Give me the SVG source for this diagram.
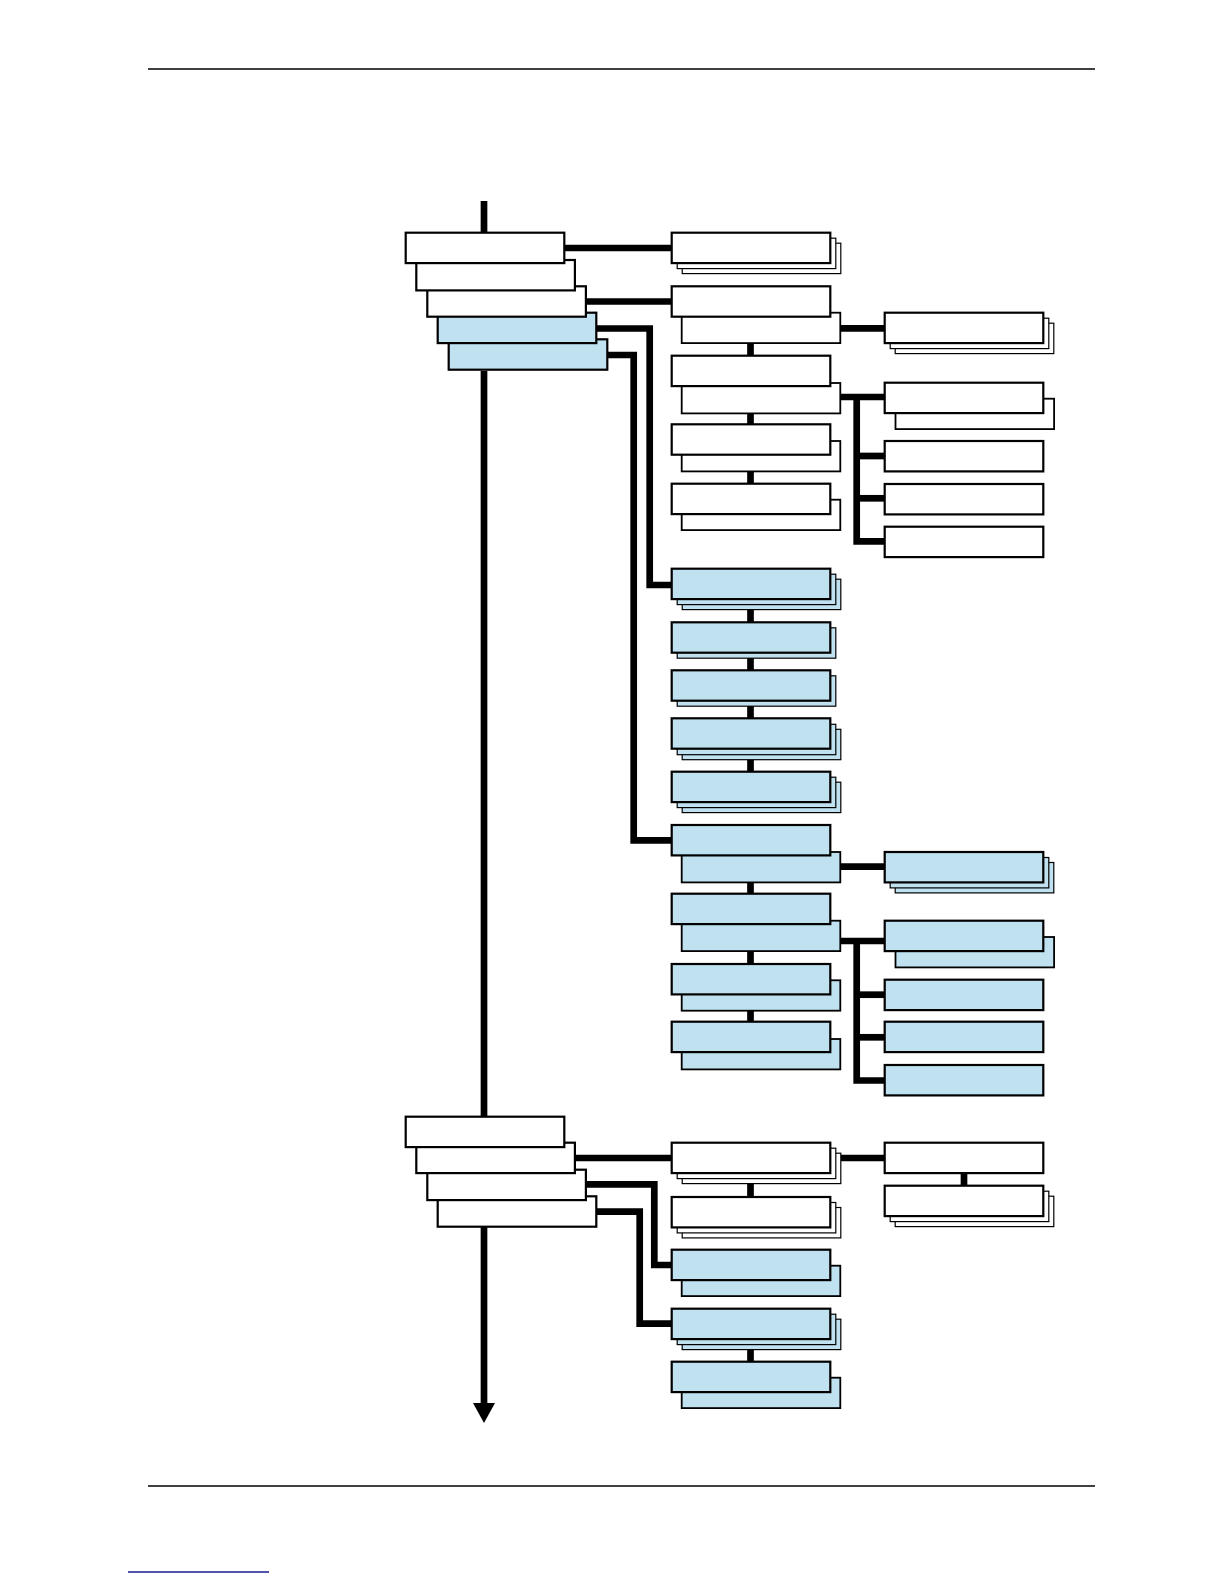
<svg xmlns="http://www.w3.org/2000/svg" width="1224" height="1584" viewBox="0 0 1224 1584">
<style>
.w{fill:#ffffff;stroke:#000;stroke-width:2.2}
.b{fill:#bfe1f0;stroke:#000;stroke-width:2.2}
.w2{fill:#ffffff;stroke:#000;stroke-width:1.8}
.b2{fill:#bfe1f0;stroke:#000;stroke-width:1.8}
.ws{fill:#ffffff;stroke:#000;stroke-width:1.2}
.bs{fill:#bfe1f0;stroke:#000;stroke-width:1.2}
.c{fill:none;stroke:#000;stroke-width:6.7;stroke-linecap:butt;stroke-linejoin:miter}
.rule{fill:none;stroke:#000;stroke-width:1.3}
</style>
<defs>
<marker id="ah" markerUnits="userSpaceOnUse" markerWidth="24" markerHeight="22" refX="0" refY="11" orient="auto" viewBox="0 0 20 22">
<path d="M0 0 L20 11 L0 22 Z" fill="#000"/>
</marker>
</defs>
<rect width="1224" height="1584" fill="#fff"/>
<g id="page-rules">
<path class="rule" d="M148 69 H1095"/>
<path class="rule" d="M148 1486 H1095"/>
<path d="M128 1572 H269" fill="none" stroke="#1a1a8c" stroke-width="1.4"/>
</g>
<g id="connectors">
<path class="c" d="M484 201 V232"/>
<path class="c" d="M484 371 V1116"/>
<path class="c" d="M484 1227 V1403" marker-end="url(#ah)"/>
<path class="c" d="M565 248 H671"/>
<path class="c" d="M586 301.5 H671"/>
<path class="c" d="M597 328.5 H649.7 V585 H671"/>
<path class="c" d="M608 355 H633.7 V840.3 H671"/>
<path class="c" d="M841 328.3 H884"/>
<path class="c" d="M750.5 344 V356"/>
<path class="c" d="M841 397 H884"/>
<path class="c" d="M856.7 397 V541.3 H884"/>
<path class="c" d="M856.7 456 H884"/>
<path class="c" d="M856.7 498.3 H884"/>
<path class="c" d="M750.5 413 V425"/>
<path class="c" d="M750.5 472 V484"/>
<path class="c" d="M750.5 610 V622"/>
<path class="c" d="M750.5 658 V670"/>
<path class="c" d="M750.5 706 V718"/>
<path class="c" d="M750.5 760 V772"/>
<path class="c" d="M841 866.7 H884"/>
<path class="c" d="M750.5 882 V894"/>
<path class="c" d="M841 941 H884"/>
<path class="c" d="M856.7 941 V1080.5 H884"/>
<path class="c" d="M856.7 994.7 H884"/>
<path class="c" d="M856.7 1037.3 H884"/>
<path class="c" d="M750.5 951 V964"/>
<path class="c" d="M750.5 1010 V1022"/>
<path class="c" d="M576 1158 H671"/>
<path class="c" d="M841 1158 H884"/>
<path class="c" d="M964 1173 V1186"/>
<path class="c" d="M750.5 1184 V1197"/>
<path class="c" d="M586 1184.3 H654.3 V1265 H671"/>
<path class="c" d="M597 1211.7 H639.7 V1323.7 H671"/>
<path class="c" d="M750.5 1350 V1362"/>
</g>
<g id="n5"><rect class="b" x="448.7" y="339.3" width="158.6" height="30.4"/></g>
<g id="n4"><rect class="b" x="437.7" y="312.7" width="158.6" height="30.4"/></g>
<g id="n3"><rect class="w" x="427.3" y="286.3" width="158.6" height="30.4"/></g>
<g id="n2"><rect class="w" x="416.3" y="260" width="158.6" height="30.4"/></g>
<g id="n1"><rect class="w" x="405.7" y="232.7" width="158.6" height="30.4"/></g>
<g id="nA"><rect class="ws" x="682.2" y="243.2" width="158.6" height="30.4"/><rect class="ws" x="677.2" y="238.2" width="158.6" height="30.4"/><rect class="w" x="671.7" y="232.7" width="158.6" height="30.4"/></g>
<g id="nB"><rect class="w2" x="681.7" y="312.7" width="158.6" height="30.4"/><rect class="w" x="671.7" y="286.3" width="158.6" height="30.4"/></g>
<g id="nC"><rect class="ws" x="895.2" y="323.2" width="158.6" height="30.4"/><rect class="ws" x="890.2" y="318.2" width="158.6" height="30.4"/><rect class="w" x="884.7" y="312.7" width="158.6" height="30.4"/></g>
<g id="nD"><rect class="w2" x="681.7" y="383" width="158.6" height="30.4"/><rect class="w" x="671.7" y="355.7" width="158.6" height="30.4"/></g>
<g id="nE"><rect class="w2" x="895.5" y="398.7" width="158.6" height="30.4"/><rect class="w" x="884.7" y="382.7" width="158.6" height="30.4"/></g>
<g id="nF"><rect class="w2" x="681.7" y="441" width="158.6" height="30.4"/><rect class="w" x="671.7" y="424.3" width="158.6" height="30.4"/></g>
<g id="nG"><rect class="w2" x="681.7" y="499.7" width="158.6" height="30.4"/><rect class="w" x="671.7" y="483.7" width="158.6" height="30.4"/></g>
<g id="nH"><rect class="w" x="884.7" y="441" width="158.6" height="30.4"/></g>
<g id="nI"><rect class="w" x="884.7" y="484" width="158.6" height="30.4"/></g>
<g id="nJ"><rect class="w" x="884.7" y="526.7" width="158.6" height="30.4"/></g>
<g id="nK"><rect class="bs" x="682.2" y="579.2" width="158.6" height="30.4"/><rect class="bs" x="677.2" y="574.2" width="158.6" height="30.4"/><rect class="b" x="671.7" y="568.7" width="158.6" height="30.4"/></g>
<g id="nL"><rect class="bs" x="677.2" y="627.8" width="158.6" height="30.4"/><rect class="b" x="671.7" y="622.3" width="158.6" height="30.4"/></g>
<g id="nM"><rect class="bs" x="677.2" y="675.8" width="158.6" height="30.4"/><rect class="b" x="671.7" y="670.3" width="158.6" height="30.4"/></g>
<g id="nN"><rect class="bs" x="682.2" y="729.3" width="158.6" height="30.4"/><rect class="bs" x="677.2" y="724.3" width="158.6" height="30.4"/><rect class="b" x="671.7" y="718.3" width="158.6" height="30.4"/></g>
<g id="nO"><rect class="bs" x="682.2" y="782.2" width="158.6" height="30.4"/><rect class="bs" x="677.2" y="777.2" width="158.6" height="30.4"/><rect class="b" x="671.7" y="771.7" width="158.6" height="30.4"/></g>
<g id="nP"><rect class="b2" x="681.7" y="852" width="158.6" height="30.4"/><rect class="b" x="671.7" y="825" width="158.6" height="30.4"/></g>
<g id="nQ"><rect class="bs" x="895.2" y="862.5" width="158.6" height="30.4"/><rect class="bs" x="890.2" y="857.5" width="158.6" height="30.4"/><rect class="b" x="884.7" y="852" width="158.6" height="30.4"/></g>
<g id="nR"><rect class="b2" x="681.7" y="920.7" width="158.6" height="30.4"/><rect class="b" x="671.7" y="893.7" width="158.6" height="30.4"/></g>
<g id="nS"><rect class="b2" x="895.5" y="937" width="158.6" height="30.4"/><rect class="b" x="884.7" y="920.7" width="158.6" height="30.4"/></g>
<g id="nT"><rect class="b2" x="681.7" y="980.3" width="158.6" height="30.4"/><rect class="b" x="671.7" y="964" width="158.6" height="30.4"/></g>
<g id="nU"><rect class="b2" x="681.7" y="1039" width="158.6" height="30.4"/><rect class="b" x="671.7" y="1021.7" width="158.6" height="30.4"/></g>
<g id="nV"><rect class="b" x="884.7" y="979.7" width="158.6" height="30.4"/></g>
<g id="nW"><rect class="b" x="884.7" y="1021.7" width="158.6" height="30.4"/></g>
<g id="nX"><rect class="b" x="884.7" y="1065" width="158.6" height="30.4"/></g>
<g id="m4"><rect class="w" x="437.7" y="1196.3" width="158.6" height="30.4"/></g>
<g id="m3"><rect class="w" x="427.3" y="1169.7" width="158.6" height="30.4"/></g>
<g id="m2"><rect class="w" x="416.3" y="1142.7" width="158.6" height="30.4"/></g>
<g id="m1"><rect class="w" x="405.7" y="1116.7" width="158.6" height="30.4"/></g>
<g id="nZ"><rect class="ws" x="682.2" y="1153.2" width="158.6" height="30.4"/><rect class="ws" x="677.2" y="1148.2" width="158.6" height="30.4"/><rect class="w" x="671.7" y="1142.7" width="158.6" height="30.4"/></g>
<g id="nAA"><rect class="w" x="884.7" y="1142.7" width="158.6" height="30.4"/></g>
<g id="nAB"><rect class="ws" x="895.2" y="1196.2" width="158.6" height="30.4"/><rect class="ws" x="890.2" y="1191.2" width="158.6" height="30.4"/><rect class="w" x="884.7" y="1185.7" width="158.6" height="30.4"/></g>
<g id="nAC"><rect class="ws" x="682.2" y="1207.5" width="158.6" height="30.4"/><rect class="ws" x="677.2" y="1202.5" width="158.6" height="30.4"/><rect class="w" x="671.7" y="1197" width="158.6" height="30.4"/></g>
<g id="nAD"><rect class="b2" x="681.7" y="1265.7" width="158.6" height="30.4"/><rect class="b" x="671.7" y="1249.7" width="158.6" height="30.4"/></g>
<g id="nAE"><rect class="bs" x="682.2" y="1319.2" width="158.6" height="30.4"/><rect class="bs" x="677.2" y="1314.2" width="158.6" height="30.4"/><rect class="b" x="671.7" y="1308.7" width="158.6" height="30.4"/></g>
<g id="nAF"><rect class="b2" x="681.7" y="1377.7" width="158.6" height="30.4"/><rect class="b" x="671.7" y="1361.7" width="158.6" height="30.4"/></g>
</svg>
